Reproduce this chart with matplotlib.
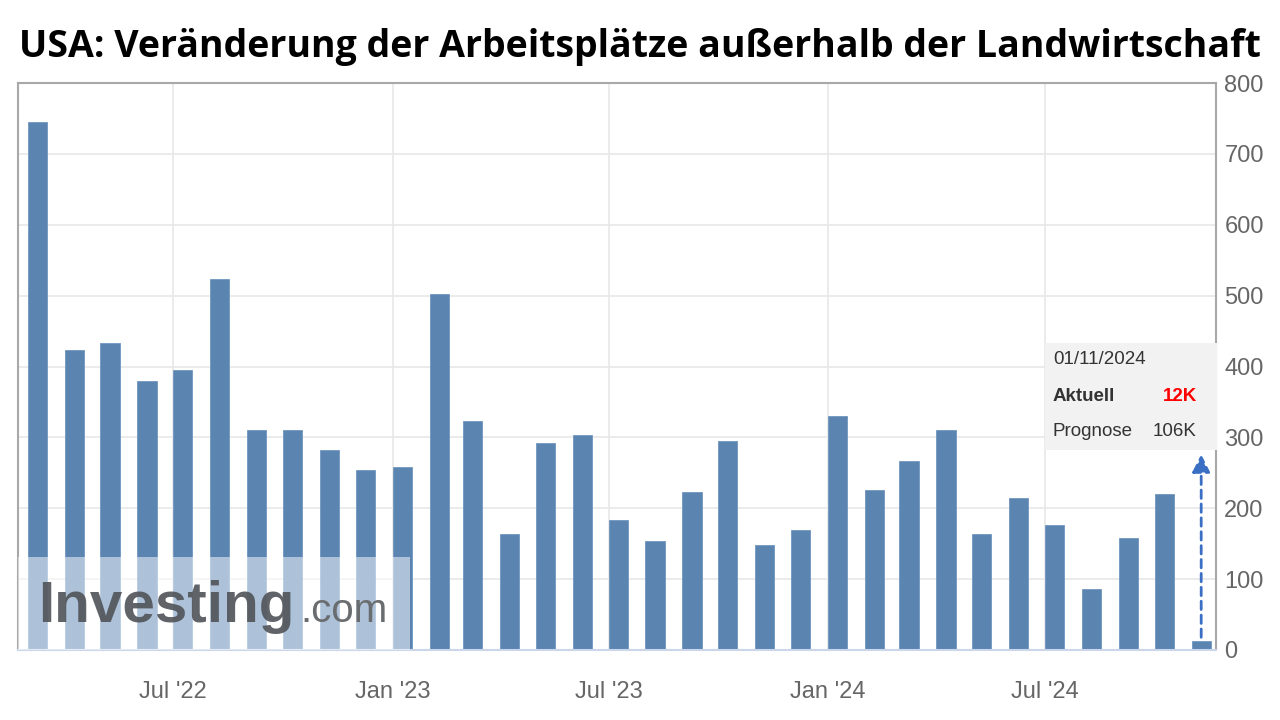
'''
US nonfarm payrolls, monthly change (thousands),
styled after the investing.com chart
'''
import pandas as pd
import matplotlib.pyplot as plt
from matplotlib.patches import Rectangle

#the data, monthly change in thousands, one bar per release month (Mar 2022 .. Nov 2024)
months = pd.date_range('2022-03-01', '2024-11-01', freq='MS')
jobs = [745, 423, 433, 379, 395, 523, 310, 310, 282, 254, 258, 502,
        323, 164, 292, 303, 183, 154, 223, 295, 148, 169, 330, 226,
        267, 310, 164, 214, 176, 86, 158, 220, 12]
#tick labels
tick_dates = pd.to_datetime(['2022-07-01', '2023-01-01', '2023-07-01', '2024-01-01', '2024-07-01'])
tick_labels = ["Jul '22", "Jan '23", "Jul '23", "Jan '24", "Jul '24"]
y_ticks = [0, 100, 200, 300, 400, 500, 600, 700, 800]
#tooltip text
tip_date = '01/11/2024'
tip_actual = '12K'
tip_forecast = '106K'

bar_color = '#5b84b1'
grid_color = '#e8e8e8'
tick_color = '#666666'

fig = plt.figure(figsize=(12.8, 7.2), dpi=100)
ax = fig.add_axes([18/1280, 70/720, 1198/1280, 567/720])

#bars start at the month start, about half a month wide
ax.bar(months, jobs, width=16, align='edge', color=bar_color,
       edgecolor='#7096c0', linewidth=0.6, zorder=2)

ax.set_xlim(pd.Timestamp('2022-02-20 20:00'), pd.Timestamp('2024-11-21 10:00'))
ax.set_ylim(0, 800)
ax.set_xticks(tick_dates)
ax.set_xticklabels(tick_labels)
ax.set_yticks(y_ticks)
ax.yaxis.tick_right()
ax.tick_params(axis='both', length=0, labelsize=17, labelcolor=tick_color)
ax.tick_params(axis='x', pad=22)
ax.tick_params(axis='y', pad=6)
for lbl in ax.get_xticklabels() + ax.get_yticklabels():
    lbl.set_fontfamily('Liberation Sans')
ax.grid(True, color=grid_color, linewidth=1.2, zorder=0)
ax.set_axisbelow(True)
for side in ['left', 'top', 'right']:
    ax.spines[side].set_color('#a8a8a8')
    ax.spines[side].set_linewidth(1.5)
ax.spines['bottom'].set_color('#ccd6eb')
ax.spines['bottom'].set_linewidth(1.5)

#watermark: washed out band plus logo text
ax.add_patch(Rectangle((0, 0), 0.327, 0.164, transform=ax.transAxes,
                       facecolor='white', alpha=0.5, edgecolor='none', zorder=3))
ax.text(0.017, 0.075, 'Investing', transform=ax.transAxes, fontsize=42,
        fontweight='bold', color='#4f5358', family='Liberation Sans',
        va='center', ha='left', zorder=4, alpha=0.9)
ax.text(0.236, 0.068, '.com', transform=ax.transAxes, fontsize=29,
        color='#6a6d70', family='Liberation Sans', va='center', ha='left', zorder=4)

#dashed arrow from the last bar up to the tooltip
x_last = months[-1] + pd.Timedelta(days=8)
ax.annotate('', xy=(x_last, 280), xytext=(x_last, 14),
            arrowprops=dict(arrowstyle='-|>', color='#3a6fc4', linestyle=(0, (3, 2)),
                            linewidth=2, mutation_scale=27), zorder=5)

#tooltip box
fig.patches.append(Rectangle((1045/1280, 270/720), 172/1280, 107/720,
                             transform=fig.transFigure, facecolor='#f2f2f2',
                             edgecolor='none', zorder=6))
fig.text(1053/1280, 1 - 360/720, tip_date, fontsize=13.5, color='#333333',
         family='Liberation Sans', va='center', zorder=7)
fig.text(1053/1280, 1 - 396/720, 'Aktuell', fontsize=13.5, color='#333333',
         fontweight='bold', family='Liberation Sans', va='center', zorder=7)
fig.text(1197/1280, 1 - 396/720, tip_actual, fontsize=13.5, color='#ff0000',
         fontweight='bold', family='Liberation Sans', va='center', ha='right', zorder=7)
fig.text(1053/1280, 1 - 431/720, 'Prognose', fontsize=13.5, color='#333333',
         family='Liberation Sans', va='center', zorder=7)
fig.text(1197/1280, 1 - 431/720, tip_forecast, fontsize=13.5, color='#333333',
         family='Liberation Sans', va='center', ha='right', zorder=7)

fig.text(0.5, 1 - 47/720, 'USA: Veränderung der Arbeitsplätze außerhalb der Landwirtschaft',
         fontsize=27, fontweight='bold', family='Open Sans', ha='center', va='center')

plt.savefig('out.png', dpi=100)
